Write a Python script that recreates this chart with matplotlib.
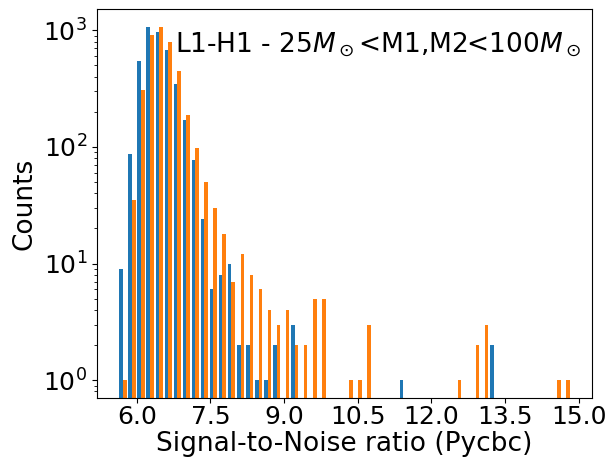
import numpy as np
import matplotlib
matplotlib.use('Agg')
import matplotlib.pyplot as plt

# histogram bins (50 bins of SNR)
NUM_BINS = 50
SNR_MIN, SNR_MAX = 5.625, 14.835

# counts per bin (0 = empty bin)
counts_blue = [9, 87, 546, 1060, 960, 680, 345, 170, 78, 24,
               6, 8, 10, 2, 2, 1, 1, 2, 0, 3,
               0, 0, 0, 0, 0, 0, 0, 0, 0, 0,
               0, 1, 0, 0, 0, 0, 0, 0, 0, 0,
               0, 2, 0, 0, 0, 0, 0, 0, 0, 0]
counts_orange = [1, 35, 310, 910, 1070, 790, 450, 187, 98, 50,
                 30, 18, 7, 12, 8, 6, 4, 3, 4, 2,
                 2, 5, 5, 0, 0, 1, 1, 3, 0, 0,
                 0, 0, 0, 0, 0, 0, 0, 1, 0, 2,
                 3, 0, 0, 0, 0, 0, 0, 0, 1, 1]

edges = np.linspace(SNR_MIN, SNR_MAX, NUM_BINS + 1)
centers = (edges[:-1] + edges[1:]) / 2

fig = plt.figure(figsize=(6.05, 4.61), dpi=100)
ax = fig.add_axes([0.160, 0.137, 0.819, 0.843])

ax.hist([centers, centers], bins=edges, weights=[counts_blue, counts_orange],
        log=True, color=['#1f77b4', '#ff7f0e'])

ax.set_xticks([6.0, 7.5, 9.0, 10.5, 12.0, 13.5, 15.0])
ax.tick_params(labelsize=18)
ax.tick_params(axis='x', pad=2)
ax.set_xlabel('Signal-to-Noise ratio (Pycbc)', fontsize=19, labelpad=1)
ax.set_ylabel('Counts', fontsize=19)
ax.text(0.157, 0.91, r'L1-H1 - 25$M_\odot$<M1,M2<100$M_\odot$',
        transform=ax.transAxes, fontsize=19, ha='left', va='center')

plt.savefig('out.png', dpi=100)
